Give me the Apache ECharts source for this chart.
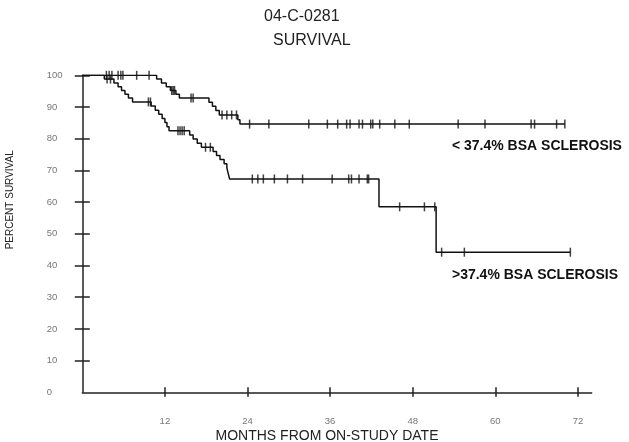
<!DOCTYPE html>
<html>
<head>
<meta charset="utf-8">
<script src="https://cdn.jsdelivr.net/npm/echarts@6/dist/echarts.min.js"></script>
<style>
  html, body { margin: 0; padding: 0; background: #fff; }
  #chart { width: 629px; height: 442px; }
</style>
</head>
<body>
<div id="chart"></div>
<script>
// x ticks (months) and y ticks (percent)
const monthTicks = [12, 24, 36, 48, 60, 72]
const percentTicks = [10, 20, 30, 40, 50, 60, 70, 80, 90, 100]

// < 37.4% BSA sclerosis: event times and survival after each event
const lowMonths = [0, 10.8, 11.5, 12.2, 12.8, 13.6, 14.1, 18.4, 18.9, 19.4, 19.9, 22.6, 22.9]
const lowSurvival = [100, 98.8, 97.6, 96.4, 95.2, 94.0, 92.8, 91.5, 90.2, 88.9, 87.5, 86.0, 84.6]
const lowCensored = [3.5, 3.9, 4.3, 5.2, 5.6, 5.9, 7.9, 9.7, 13.0, 13.2, 13.4, 15.8, 16.1,
  20.3, 21.0, 21.7, 22.4, 24.3, 27.1, 32.9, 35.6, 37.1, 38.4, 38.9, 40.2, 40.7, 41.9, 42.2,
  43.2, 45.4, 47.5, 54.6, 58.5, 65.2, 65.7, 68.9, 70.1]

// > 37.4% BSA sclerosis
const highMonths = [0, 3.2, 4.6, 5.2, 5.7, 6.2, 6.7, 7.3, 10.0, 10.6, 11.1, 11.6, 12.0, 12.3, 12.6,
  15.6, 16.1, 16.7, 17.3, 19.0, 19.5, 20.0, 20.6, 21.0, 21.2, 21.4, 43.1, 51.4]
const highSurvival = [100, 98.8, 97.6, 96.4, 95.2, 94.0, 92.8, 91.6, 90.3, 89.0, 87.7, 86.4, 85.1, 83.8, 82.5,
  81.2, 79.9, 78.6, 77.3, 76.0, 74.7, 73.4, 72.1, 70.8, 69.0, 67.3, 58.5, 44.2]
const highCensored = [3.6, 4.1, 9.6, 9.9, 13.9, 14.2, 14.5, 14.8, 17.9, 18.6,
  24.7, 25.5, 26.3, 27.9, 29.8, 32.0, 36.3, 38.7, 39.1, 40.2, 41.4, 41.6,
  46.1, 49.7, 51.2, 52.2, 55.5, 70.9]

function stepData (months, surv, censored) {
  const pts = months.map((m, i) => [m, surv[i]])
  const last = censored[censored.length - 1]
  pts.push([last, surv[surv.length - 1]])
  return pts
}
function censorData (months, surv, censored) {
  return censored.map(t => {
    let v = surv[0]
    months.forEach((m, i) => { if (m <= t) v = surv[i] })
    return [t, v]
  })
}

const chart = echarts.init(document.getElementById('chart'))
const labelFont = { color: '#777', fontSize: 9.5, fontFamily: 'Liberation Sans, Arial' }
const ink = '#111'

function curve (name, months, surv, censored, labelAt, labelText) {
  return [
    {
      name: name,
      type: 'line',
      step: 'end',
      symbol: 'none',
      data: stepData(months, surv, censored),
      lineStyle: { color: ink, width: 1.5 },
      markPoint: {
        symbol: 'circle',
        symbolSize: 0,
        data: [{ coord: labelAt }],
        label: {
          show: true,
          position: 'right',
          distance: 0,
          formatter: labelText,
          color: '#111',
          fontWeight: 'bold',
          fontSize: 14,
          fontFamily: 'Liberation Sans, Arial'
        }
      }
    },
    {
      type: 'scatter',
      symbol: 'rect',
      symbolSize: [1.5, 9],
      itemStyle: { color: ink },
      data: censorData(months, surv, censored)
    }
  ]
}

chart.setOption({
  animation: false,
  title: [
    { text: '04-C-0281', left: 259, top: 4, textStyle: { fontSize: 16, fontWeight: 'normal', color: '#222', fontFamily: 'Liberation Sans, Arial' } },
    { text: 'SURVIVAL', left: 268, top: 28, textStyle: { fontSize: 16, fontWeight: 'normal', color: '#222', fontFamily: 'Liberation Sans, Arial' } }
  ],
  grid: { left: 82.3, right: 37.3, top: 75.3, bottom: 49.7, outerBoundsMode: 'none' },
  xAxis: [
    {
      type: 'value',
      position: 'bottom',
      min: 0,
      max: 74,
      name: 'MONTHS FROM ON-STUDY DATE',
      nameLocation: 'middle',
      nameMoveOverlap: false,
      nameGap: 44,
      nameTextStyle: { color: '#222', fontSize: 14, fontFamily: 'Liberation Sans, Arial', padding: [0, 20, 0, 0], verticalAlign: 'middle' },
      splitLine: { show: false },
      axisLine: { lineStyle: { color: '#222', width: 1.5 } },
      axisTick: { length: 4.5, customValues: monthTicks, lineStyle: { color: '#222', width: 1.5 } },
      axisLabel: Object.assign({ margin: 24, customValues: monthTicks }, labelFont)
    },
    {
      type: 'value',
      position: 'bottom',
      min: 0,
      max: 74,
      splitLine: { show: false },
      axisLine: { show: false },
      axisTick: { inside: true, length: 5, customValues: monthTicks, lineStyle: { color: '#222', width: 1.5 } },
      axisLabel: { show: false }
    }
  ],
  yAxis: [
    {
      type: 'value',
      position: 'left',
      min: 0,
      max: 100,
      interval: 10,
      name: 'PERCENT SURVIVAL',
      nameLocation: 'middle',
      nameGap: 67,
      nameTextStyle: { color: '#222', fontSize: 10, fontFamily: 'Liberation Sans, Arial', padding: [0, 0, 0, 68] },
      splitLine: { show: false },
      axisLine: { lineStyle: { color: '#222', width: 1.5 } },
      axisTick: { length: 7.5, customValues: percentTicks, lineStyle: { color: '#222', width: 1.5 } },
      axisLabel: Object.assign({ align: 'left', margin: 35.6, padding: [0, 0, 6, 0] }, labelFont)
    },
    {
      type: 'value',
      position: 'left',
      min: 0,
      max: 100,
      interval: 10,
      splitLine: { show: false },
      axisLine: { show: false },
      axisTick: { inside: true, length: 7.5, customValues: percentTicks, lineStyle: { color: '#222', width: 1.5 } },
      axisLabel: { show: false }
    }
  ],
  series: [
    ...curve('< 37.4% BSA SCLEROSIS', lowMonths, lowSurvival, lowCensored, [53.7, 77.5], '< 37.4% BSA SCLEROSIS'),
    ...curve('>37.4% BSA SCLEROSIS', highMonths, highSurvival, highCensored, [53.7, 37], '>37.4% BSA SCLEROSIS')
  ]
})
</script>
</body>
</html>
